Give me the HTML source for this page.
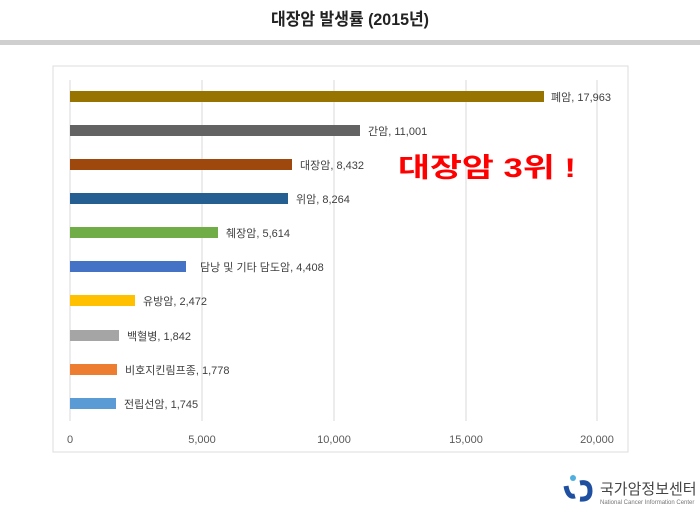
<!DOCTYPE html>
<html><head><meta charset="utf-8"><style>
body{margin:0;width:700px;height:510px;background:#fff;overflow:hidden;font-family:"Liberation Sans","Noto Sans CJK KR",sans-serif;}
</style></head><body>
<svg width="700" height="510" xmlns="http://www.w3.org/2000/svg" font-family="Liberation Sans, Noto Sans CJK KR, sans-serif">
<text x="350" y="25" text-anchor="middle" font-size="17" font-weight="bold" fill="#222" textLength="158" lengthAdjust="spacingAndGlyphs">대장암 발생률 (2015년)</text>
<rect x="0" y="40" width="700" height="5" fill="#cfcfcf"/>
<rect x="53" y="66" width="575" height="386" fill="#fff" stroke="#dcdcdc" stroke-width="1"/>
<g stroke="#d9d9d9" stroke-width="1">
<line x1="70" y1="80" x2="70" y2="421"/><line x1="202" y1="80" x2="202" y2="421"/><line x1="334" y1="80" x2="334" y2="421"/><line x1="466" y1="80" x2="466" y2="421"/><line x1="597" y1="80" x2="597" y2="421"/>
</g>
<g font-size="11" fill="#595959" text-anchor="middle">
<text x="70" y="443">0</text><text x="202" y="443">5,000</text><text x="334" y="443">10,000</text><text x="466" y="443">15,000</text><text x="597" y="443">20,000</text>
</g>
<g font-size="11" fill="#404040">
<rect x="70" y="91" width="474" height="11" fill="#977400"/><text x="551" y="101">폐암, 17,963</text>
<rect x="70" y="125" width="290" height="11" fill="#636363"/><text x="368" y="135">간암, 11,001</text>
<rect x="70" y="159" width="222" height="11" fill="#9e480e"/><text x="300" y="169">대장암, 8,432</text>
<rect x="70" y="193" width="218" height="11" fill="#255e91"/><text x="296" y="203">위암, 8,264</text>
<rect x="70" y="227" width="148" height="11" fill="#70ad47"/><text x="226" y="237">췌장암, 5,614</text>
<rect x="70" y="261" width="116" height="11" fill="#4472c4"/><text x="200" y="271">담낭 및 기타 담도암, 4,408</text>
<rect x="70" y="295" width="65" height="11" fill="#ffc000"/><text x="143" y="305">유방암, 2,472</text>
<rect x="70" y="330" width="49" height="11" fill="#a5a5a5"/><text x="127" y="340">백혈병, 1,842</text>
<rect x="70" y="364" width="47" height="11" fill="#ed7d31"/><text x="125" y="374">비호지킨림프종, 1,778</text>
<rect x="70" y="398" width="46" height="11" fill="#5b9bd5"/><text x="124" y="408">전립선암, 1,745</text>
</g>
<text x="398" y="177" font-size="27" font-weight="bold" fill="#ff0000" textLength="178" lengthAdjust="spacingAndGlyphs">대장암 3위 !</text>
<g>
<circle cx="573" cy="478" r="3" fill="#4fb0e0"/>
<path d="M566 486 q2 12 9 10 M580 483 q10 -2 10 8 q0 9 -10 8" stroke="#1e4fa0" stroke-width="5" fill="none"/>
</g>
<text x="600" y="494" font-size="15" fill="#444">국가암정보센터</text>
<text x="600" y="504" font-size="6" fill="#777">National Cancer Information Center</text>
</svg>
</body></html>
